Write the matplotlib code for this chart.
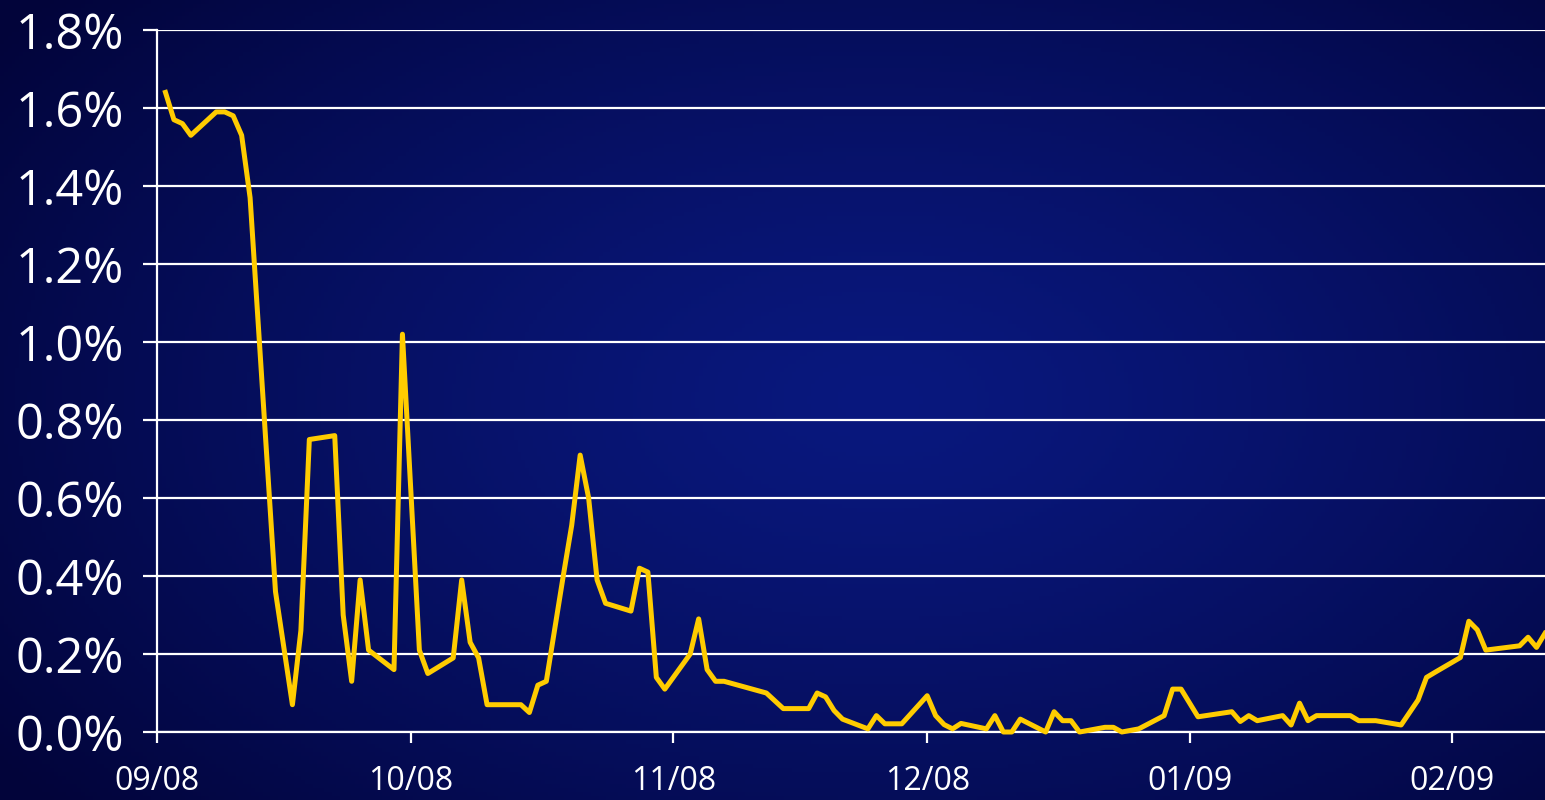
import numpy as np
import pandas as pd
import matplotlib
matplotlib.use('Agg')
import matplotlib.pyplot as plt

plt.rcParams['font.family'] = ['Open Sans', 'DejaVu Sans']

# day offsets from 2008-09-01 and yield values (%)
start = pd.Timestamp('2008-09-01')
days = [1, 2, 3, 4, 7, 8, 9, 10, 11, 14, 16, 17, 18, 21, 22, 23, 24, 25, 28, 29,
        31, 32, 35, 36, 37, 38, 39, 43, 44, 45, 46, 48, 49, 50, 51, 52, 53, 56, 57, 58, 59, 60,
        63, 64, 65, 66, 67, 72, 73, 74, 77, 78, 79, 80, 81, 84, 85, 86, 88, 91,
        92, 93, 94, 95, 98, 99, 100, 101, 102, 105, 106, 107, 108, 109, 112, 113, 114, 116,
        119, 120, 121, 123, 127, 128, 129, 130, 133, 134, 135, 136, 137, 141, 142, 144, 147,
        149, 150, 151, 154, 155, 156, 157, 161, 162, 163, 164]
values = [1.64, 1.57, 1.56, 1.53, 1.59, 1.59, 1.58, 1.53, 1.37, 0.36, 0.07, 0.26, 0.75, 0.76,
          0.30, 0.13, 0.39, 0.21, 0.16, 1.02,
          0.21, 0.15, 0.19, 0.39, 0.23, 0.19, 0.07, 0.07, 0.05, 0.12, 0.13, 0.40, 0.53, 0.71,
          0.60, 0.39, 0.33, 0.31, 0.42, 0.41, 0.14, 0.11,
          0.20, 0.29, 0.16, 0.13, 0.13, 0.10, 0.08, 0.06, 0.06, 0.10, 0.09, 0.055, 0.033,
          0.008, 0.042, 0.021, 0.021, 0.093,
          0.042, 0.019, 0.008, 0.022, 0.008, 0.042, 0.0, 0.0, 0.033, 0.0, 0.052, 0.029, 0.029,
          0.0, 0.012, 0.012, 0.0, 0.008,
          0.042, 0.11, 0.11, 0.039, 0.052, 0.027, 0.042, 0.029, 0.042, 0.018, 0.074, 0.029,
          0.042, 0.042, 0.029, 0.029, 0.018,
          0.082, 0.14, 0.153, 0.191, 0.284, 0.262, 0.21, 0.221, 0.243, 0.217, 0.253]
dates = [start + pd.Timedelta(days=d) for d in days]

month_ticks = ['2008-09-01', '2008-10-01', '2008-11-01', '2008-12-01', '2009-01-01', '2009-02-01']
month_labels = ['09/08', '10/08', '11/08', '12/08', '01/09', '02/09']
y_ticks = [0.0, 0.2, 0.4, 0.6, 0.8, 1.0, 1.2, 1.4, 1.6, 1.8]

fig = plt.figure(figsize=(15.45, 8), dpi=100)

# background gradient
bg = fig.add_axes([0, 0, 1, 1], zorder=-1)
yy, xx = np.mgrid[0:1:200j, 0:1:400j]
r = np.sqrt(((xx - 0.57) / 0.7) ** 2 + ((yy - 0.5) / 0.8) ** 2)
t = np.clip(r, 0, 1) ** 1.3
c0 = np.array([0x09, 0x18, 0x7e]) / 255
c1 = np.array([0x02, 0x04, 0x3a]) / 255
img = c0[None, None, :] * (1 - t[..., None]) + c1[None, None, :] * t[..., None]
bg.imshow(img, aspect='auto', extent=[0, 1, 0, 1], origin='lower')
bg.axis('off')

ax = fig.add_axes([157 / 1545, 68 / 800, 1 - 157 / 1545, 702 / 800])
ax.patch.set_alpha(0)
ax.plot(dates, values, color='#FFCC00', lw=3.6, clip_on=False, zorder=3)

ax.set_ylim(0, 1.8)
ax.set_xlim(start, start + pd.Timedelta(days=164))
ax.set_yticks(y_ticks)
ax.set_yticklabels([f'{v:.1f}%' for v in y_ticks])
ax.set_xticks(pd.to_datetime(month_ticks))
ax.set_xticklabels(month_labels)

ax.grid(axis='y', color='white', lw=1.6)
ax.set_axisbelow(True)
for s in ['top', 'right']:
    ax.spines[s].set_visible(False)
for s in ['left', 'bottom']:
    ax.spines[s].set_color('white')
    ax.spines[s].set_linewidth(1.6)

ax.tick_params(axis='y', colors='white', labelsize=35, length=10, width=1.6, pad=14)
ax.tick_params(axis='x', colors='white', labelsize=23, length=8, width=1.6, pad=16)

fig.savefig('out.png', dpi=100)
